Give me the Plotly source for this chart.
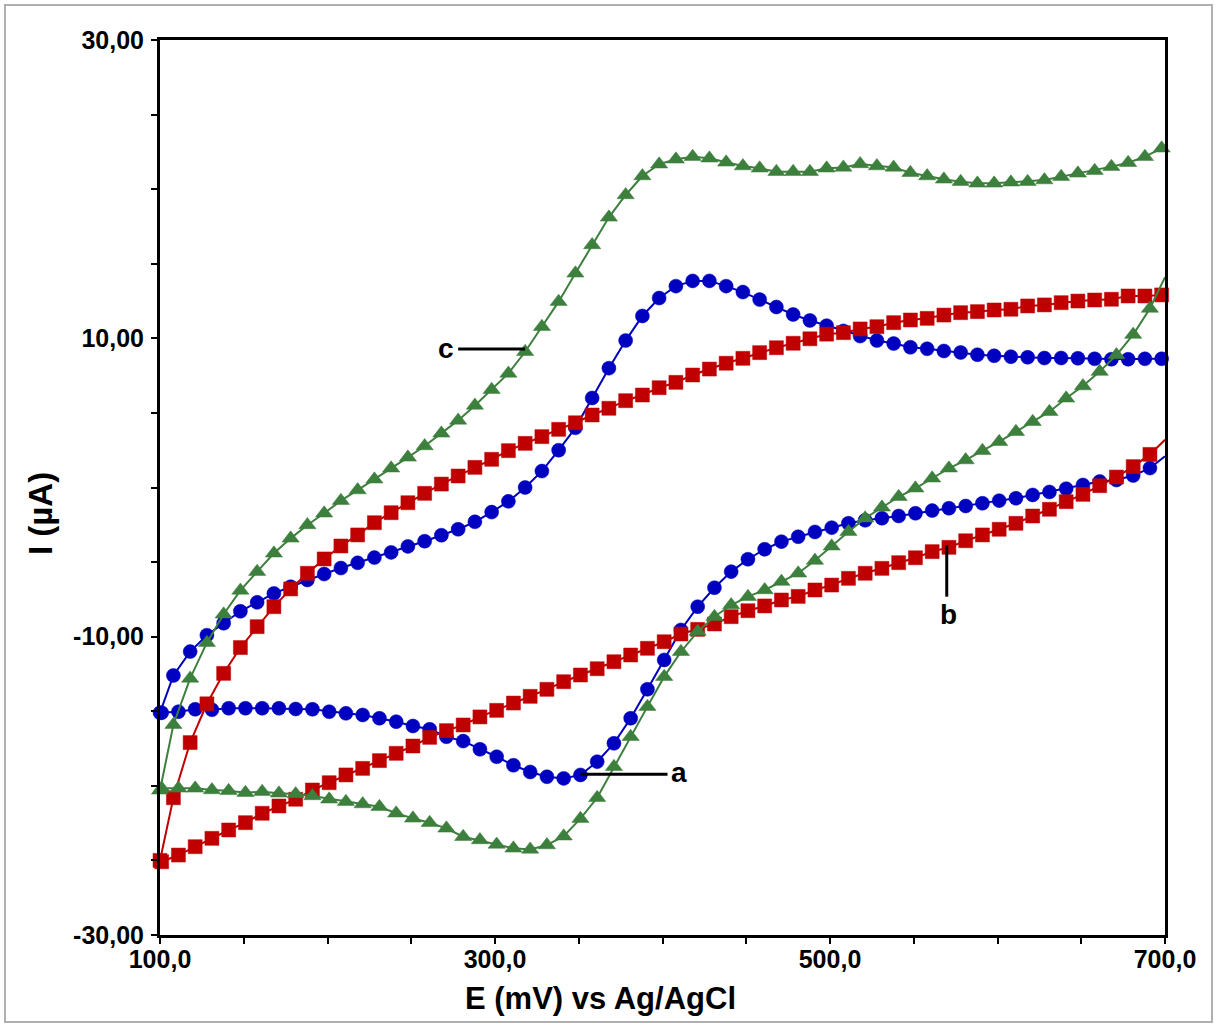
import plotly.graph_objects as go

# Potential grid (mV): reverse (cathodic) branch then forward branch
E_rev = [700] + list(range(691, 100, -10))
E_fwd = [100] + list(range(108, 700, 10))

# Curve a (blue, circles)
a_rev = [2.1, 1.3, 0.8, 0.5, 0.4, 0.17, -0.08, -0.3, -0.5, -0.72, -0.88, -1.06, -1.24, -1.39,
         -1.55, -1.73, -1.91, -2.06, -2.2, -2.4, -2.69, -2.98, -3.3, -3.63, -4.14, -4.81, -5.64,
         -6.72, -7.99, -9.55, -11.56, -13.53, -15.47, -17.15, -18.38, -19.27, -19.5, -19.39,
         -19.07, -18.62, -18.05, -17.55, -17.0, -16.71, -16.21, -15.99, -15.7, -15.47, -15.25,
         -15.14, -15.03, -14.87, -14.85, -14.8, -14.8, -14.8, -14.8, -14.9, -14.87, -15.03, -15.1]
a_fwd = [-15.1, -12.6, -11.0, -9.9, -9.1, -8.3, -7.7, -7.1, -6.65, -6.2, -5.8, -5.4, -5.05, -4.7,
         -4.35, -3.95, -3.6, -3.2, -2.8, -2.3, -1.65, -0.93, 0.0, 1.1, 2.5, 4.0, 6.0, 8.0, 9.85,
         11.5, 12.7, 13.5, 13.85, 13.85, 13.5, 13.1, 12.6, 12.1, 11.6, 11.2, 10.85, 10.5, 10.15,
         9.85, 9.65, 9.4, 9.3, 9.15, 9.05, 8.9, 8.83, 8.77, 8.73, 8.68, 8.68, 8.66, 8.63, 8.6,
         8.6, 8.63, 8.63]

# Curve b (red, squares)
b_rev = [3.2, 2.22, 1.4, 0.7, 0.12, -0.46, -0.95, -1.46, -1.91, -2.4, -2.8, -3.18, -3.57, -4.01,
         -4.3, -4.71, -5.04, -5.42, -5.75, -6.09, -6.54, -6.87, -7.3, -7.54, -7.94, -8.26, -8.66,
         -9.15, -9.51, -9.82, -10.34, -10.78, -11.23, -11.68, -12.15, -12.57, -13.02, -13.53,
         -14.0, -14.45, -14.94, -15.38, -15.92, -16.3, -16.75, -17.33, -17.82, -18.31, -18.83,
         -19.27, -19.79, -20.28, -20.9, -21.35, -21.84, -22.47, -22.96, -23.52, -24.08, -24.64,
         -25.09]
b_fwd = [-25.0, -20.8, -17.1, -14.5, -12.46, -10.73, -9.33, -7.99, -6.8, -5.75, -4.79, -3.92,
         -3.18, -2.36, -1.69, -1.02, -0.39, 0.23, 0.77, 1.35, 1.89, 2.47, 2.96, 3.41, 3.9, 4.34,
         4.86, 5.31, 5.82, 6.2, 6.69, 7.05, 7.54, 7.94, 8.33, 8.66, 9.04, 9.37, 9.67, 9.97, 10.28,
         10.38, 10.63, 10.78, 11.05, 11.23, 11.34, 11.56, 11.72, 11.79, 11.9, 11.95, 12.17, 12.24,
         12.39, 12.5, 12.57, 12.62, 12.84, 12.84, 12.91]

# Curve c (green, triangles)
c_rev = [14.1, 12.0, 10.25, 8.88, 7.77, 6.8, 5.98, 5.08, 4.41, 3.74, 3.07, 2.47, 1.84, 1.29, 0.62,
         -0.05, -0.62, -1.33, -2.06, -2.96, -3.94, -4.9, -5.75, -6.31, -6.87, -7.32, -7.88, -8.66,
         -9.66, -11.01, -12.68, -14.69, -16.71, -18.72, -20.8, -22.2, -23.38, -23.97, -24.26,
         -24.19, -23.93, -23.63, -23.41, -22.85, -22.47, -22.18, -21.84, -21.4, -21.22, -21.06,
         -20.9, -20.68, -20.55, -20.5, -20.39, -20.46, -20.33, -20.28, -20.17, -20.17, -20.17]
c_fwd = [-20.3, -15.9, -12.8, -10.4, -8.5, -6.9, -5.64, -4.41, -3.41, -2.51, -1.73, -0.88, -0.17,
         0.55, 1.29, 2.02, 2.78, 3.63, 4.5, 5.5, 6.56, 7.65, 9.1, 10.78, 12.46, 14.36, 16.26,
         18.11, 19.61, 20.88, 21.67, 22.0, 22.18, 22.07, 21.8, 21.55, 21.4, 21.17, 21.17, 21.17,
         21.4, 21.46, 21.69, 21.55, 21.46, 21.1, 20.88, 20.66, 20.5, 20.39, 20.39, 20.46, 20.5,
         20.61, 20.84, 21.06, 21.24, 21.51, 21.77, 22.18, 22.74]

x_tickvals = list(range(100, 701, 50))
x_ticktext = ["100,0", "", "", "", "300,0", "", "", "", "500,0", "", "", "", "700,0"]
y_tickvals = list(range(-30, 31, 5))
y_ticktext = ["-30,00", "", "", "", "-10,00", "", "", "", "10,00", "", "", "", "30,00"]

FONT = "Liberation Sans, Arial, sans-serif"

series = [
    ("a", a_rev, a_fwd, "#0000C0", "circle", 14),
    ("b", b_rev, b_fwd, "#C00000", "square", 14),
    ("c", c_rev, c_fwd, "#3D7F3D", "triangle-up", 15),
]

fig = go.Figure()
for name, rev, fwd, color, sym, size in series:
    xs = E_rev + E_fwd
    ys = rev + fwd
    sizes = [0] + [size] * (len(xs) - 1)
    fig.add_trace(go.Scatter(
        x=xs, y=ys, mode="lines+markers", name=name,
        line=dict(color=color, width=2),
        marker=dict(symbol=sym, size=sizes, color=color, opacity=1,
                    line=dict(width=0.5, color=color)),
        cliponaxis=False, showlegend=False,
    ))

# leader lines for labels
line_style = dict(color="black", width=3)
fig.add_shape(type="line", x0=278, x1=318, y0=9.28, y1=9.28, line=line_style)
fig.add_shape(type="line", x0=351, x1=403, y0=-19.23, y1=-19.23, line=line_style)
fig.add_shape(type="line", x0=569.7, x1=569.7, y0=-3.85, y1=-7.32, line=line_style)

lab_font = dict(family=FONT, size=28, color="black", weight="bold")
fig.add_annotation(x=270.5, y=9.3, text="c", showarrow=False, font=lab_font)
fig.add_annotation(x=410, y=-19.1, text="a", showarrow=False, font=lab_font)
fig.add_annotation(x=570.5, y=-8.5, text="b", showarrow=False, font=lab_font)

# axis titles
title_font = dict(family=FONT, size=31, color="black", weight="bold")
fig.add_annotation(xref="paper", yref="paper", x=(600 - 160) / 1005, y=(935 - 998) / 895,
                   text="E (mV) vs Ag/AgCl", showarrow=False, font=title_font,
                   xanchor="center", yanchor="middle")
fig.add_annotation(xref="paper", yref="paper", x=(40 - 160) / 1005, y=(935 - 514) / 895,
                   text="I (µA)", showarrow=False, font=dict(family=FONT, size=33, color="black", weight="bold"),
                   textangle=-90, xanchor="center", yanchor="middle")

# outer frame
fig.add_shape(type="rect", xref="paper", yref="paper",
              x0=(5 - 160) / 1005, x1=(1212 - 160) / 1005,
              y0=(935 - 1022) / 895, y1=(935 - 5) / 895,
              line=dict(color="#B0B0B0", width=2), layer="below")

tick_font = dict(family=FONT, size=25, color="black", weight="bold")
axis_common = dict(showgrid=False, zeroline=False, showline=True, linecolor="black",
                   linewidth=3, mirror=True, ticks="outside", ticklen=6, tickwidth=2,
                   tickcolor="black", tickfont=tick_font)

fig.update_xaxes(range=[100, 700], tickvals=x_tickvals, ticktext=x_ticktext,
                 ticklabelstandoff=-6, **axis_common)
fig.update_yaxes(range=[-30, 30], tickvals=y_tickvals, ticktext=y_ticktext,
                 ticklabelstandoff=2, **axis_common)

fig.update_layout(
    width=1217, height=1027,
    margin=dict(l=160, r=52, t=40, b=92),
    paper_bgcolor="white", plot_bgcolor="white",
    font=dict(family=FONT),
)

fig.write_html("out.html")
